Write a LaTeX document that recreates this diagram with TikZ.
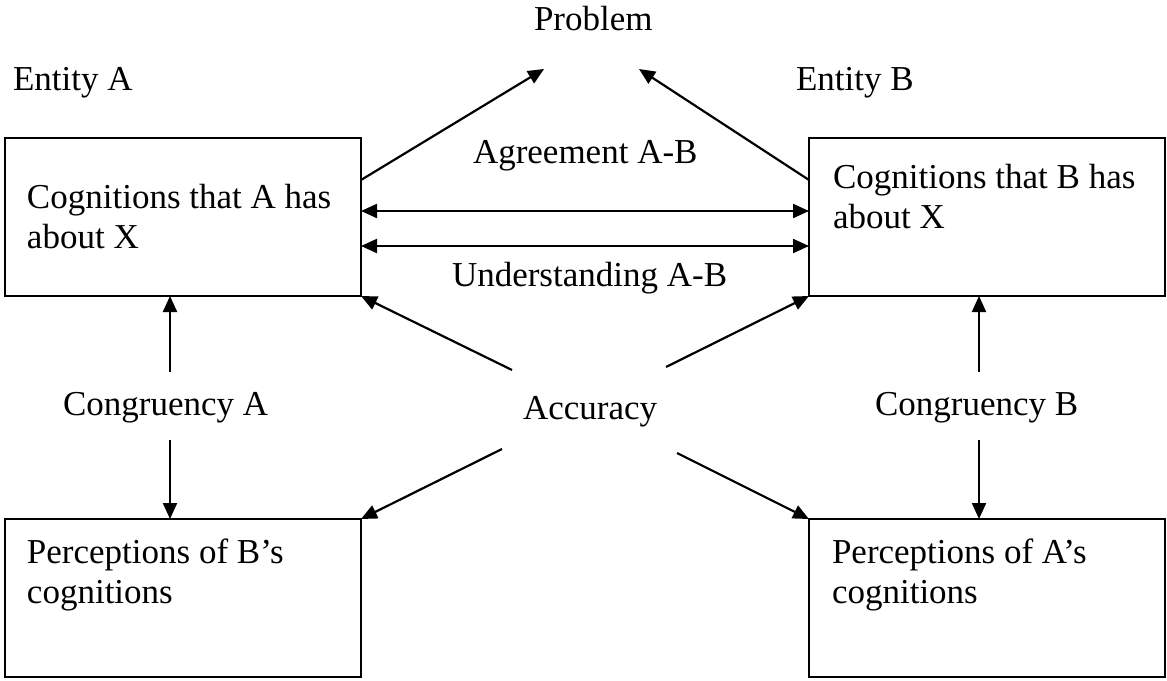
\documentclass[tikz,border=0pt]{standalone}
\usepackage{fontspec}
\setmainfont{Liberation Serif}
\usetikzlibrary{arrows.meta,calc}
\begin{document}
\begin{tikzpicture}[x=1pt,y=-1pt,
  every node/.style={font=\fontsize{35}{40}\selectfont, inner sep=0pt, outer sep=0pt},
  box/.style={draw, line width=2.2pt, minimum width=356pt, minimum height=158pt, anchor=north west},
  lbl/.style={anchor=base west},
  ml/.style={anchor=north west, align=left},
  arr/.style={line width=2.2pt, -{Triangle[length=16pt,width=14pt]}},
  arrr/.style={line width=2.2pt, {Triangle[length=16pt,width=14pt]}-{Triangle[length=16pt,width=14pt]}}]
\useasboundingbox (0,0) rectangle (1167,680);
% boxes
\node[box] (ca) at (5,138) {};
\node[box] (cb) at (809,138) {};
\node[box] (pb) at (5,519) {};
\node[box] (pa) at (809,519) {};
% box texts
\node[ml] (tca) at (27,184) {Cognitions that A has\\about X};
\node[ml] (tcb) at (833,164) {Cognitions that B has\\about X};
\node[ml] (tpb) at (27,539) {Perceptions of B’s\\cognitions};
\node[ml] (tpa) at (832,539) {Perceptions of A’s\\cognitions};
% labels
\node[lbl] (prob) at (534,30) {Problem};
\node[lbl] (enta) at (13,90) {Entity A};
\node[lbl] (entb) at (796,90) {Entity B};
\node[lbl] (agr) at (473,163) {Agreement A-B};
\node[lbl] (und) at (452,286) {Understanding A-B};
\node[lbl] (acc) at (523,419) {Accuracy};
\node[lbl] (cga) at (63,415) {Congruency A};
\node[lbl] (cgb) at (875,415) {Congruency B};
% free ends
\coordinate (p1) at (544,69);
\coordinate (p2) at (639,69);
\coordinate (a1) at (512,370);
\coordinate (a2) at (666,367);
\coordinate (a3) at (502,449);
\coordinate (a4) at (677,453);
\coordinate (ga1) at (170,372);
\coordinate (ga2) at (170,440);
\coordinate (gb1) at (979,372);
\coordinate (gb2) at (979,440);
% connectors
\draw[arr] ($(ca.north east)+(0,42)$) -- (p1);
\draw[arr] ($(cb.north west)+(0,42)$) -- (p2);
\draw[arrr] ($(ca.north east)+(0,73)$) -- ($(cb.north west)+(0,73)$);
\draw[arrr] ($(ca.north east)+(0,108)$) -- ($(cb.north west)+(0,108)$);
\draw[arr] (a1) -- (ca.south east);
\draw[arr] (a2) -- (cb.south west);
\draw[arr] (a3) -- (pb.north east);
\draw[arr] (a4) -- (pa.north west);
\draw[arr] (ga1) -- (ga1 |- ca.south);
\draw[arr] (ga2) -- (ga2 |- pb.north);
\draw[arr] (gb1) -- (gb1 |- cb.south);
\draw[arr] (gb2) -- (gb2 |- pa.north);
\end{tikzpicture}
\end{document}
